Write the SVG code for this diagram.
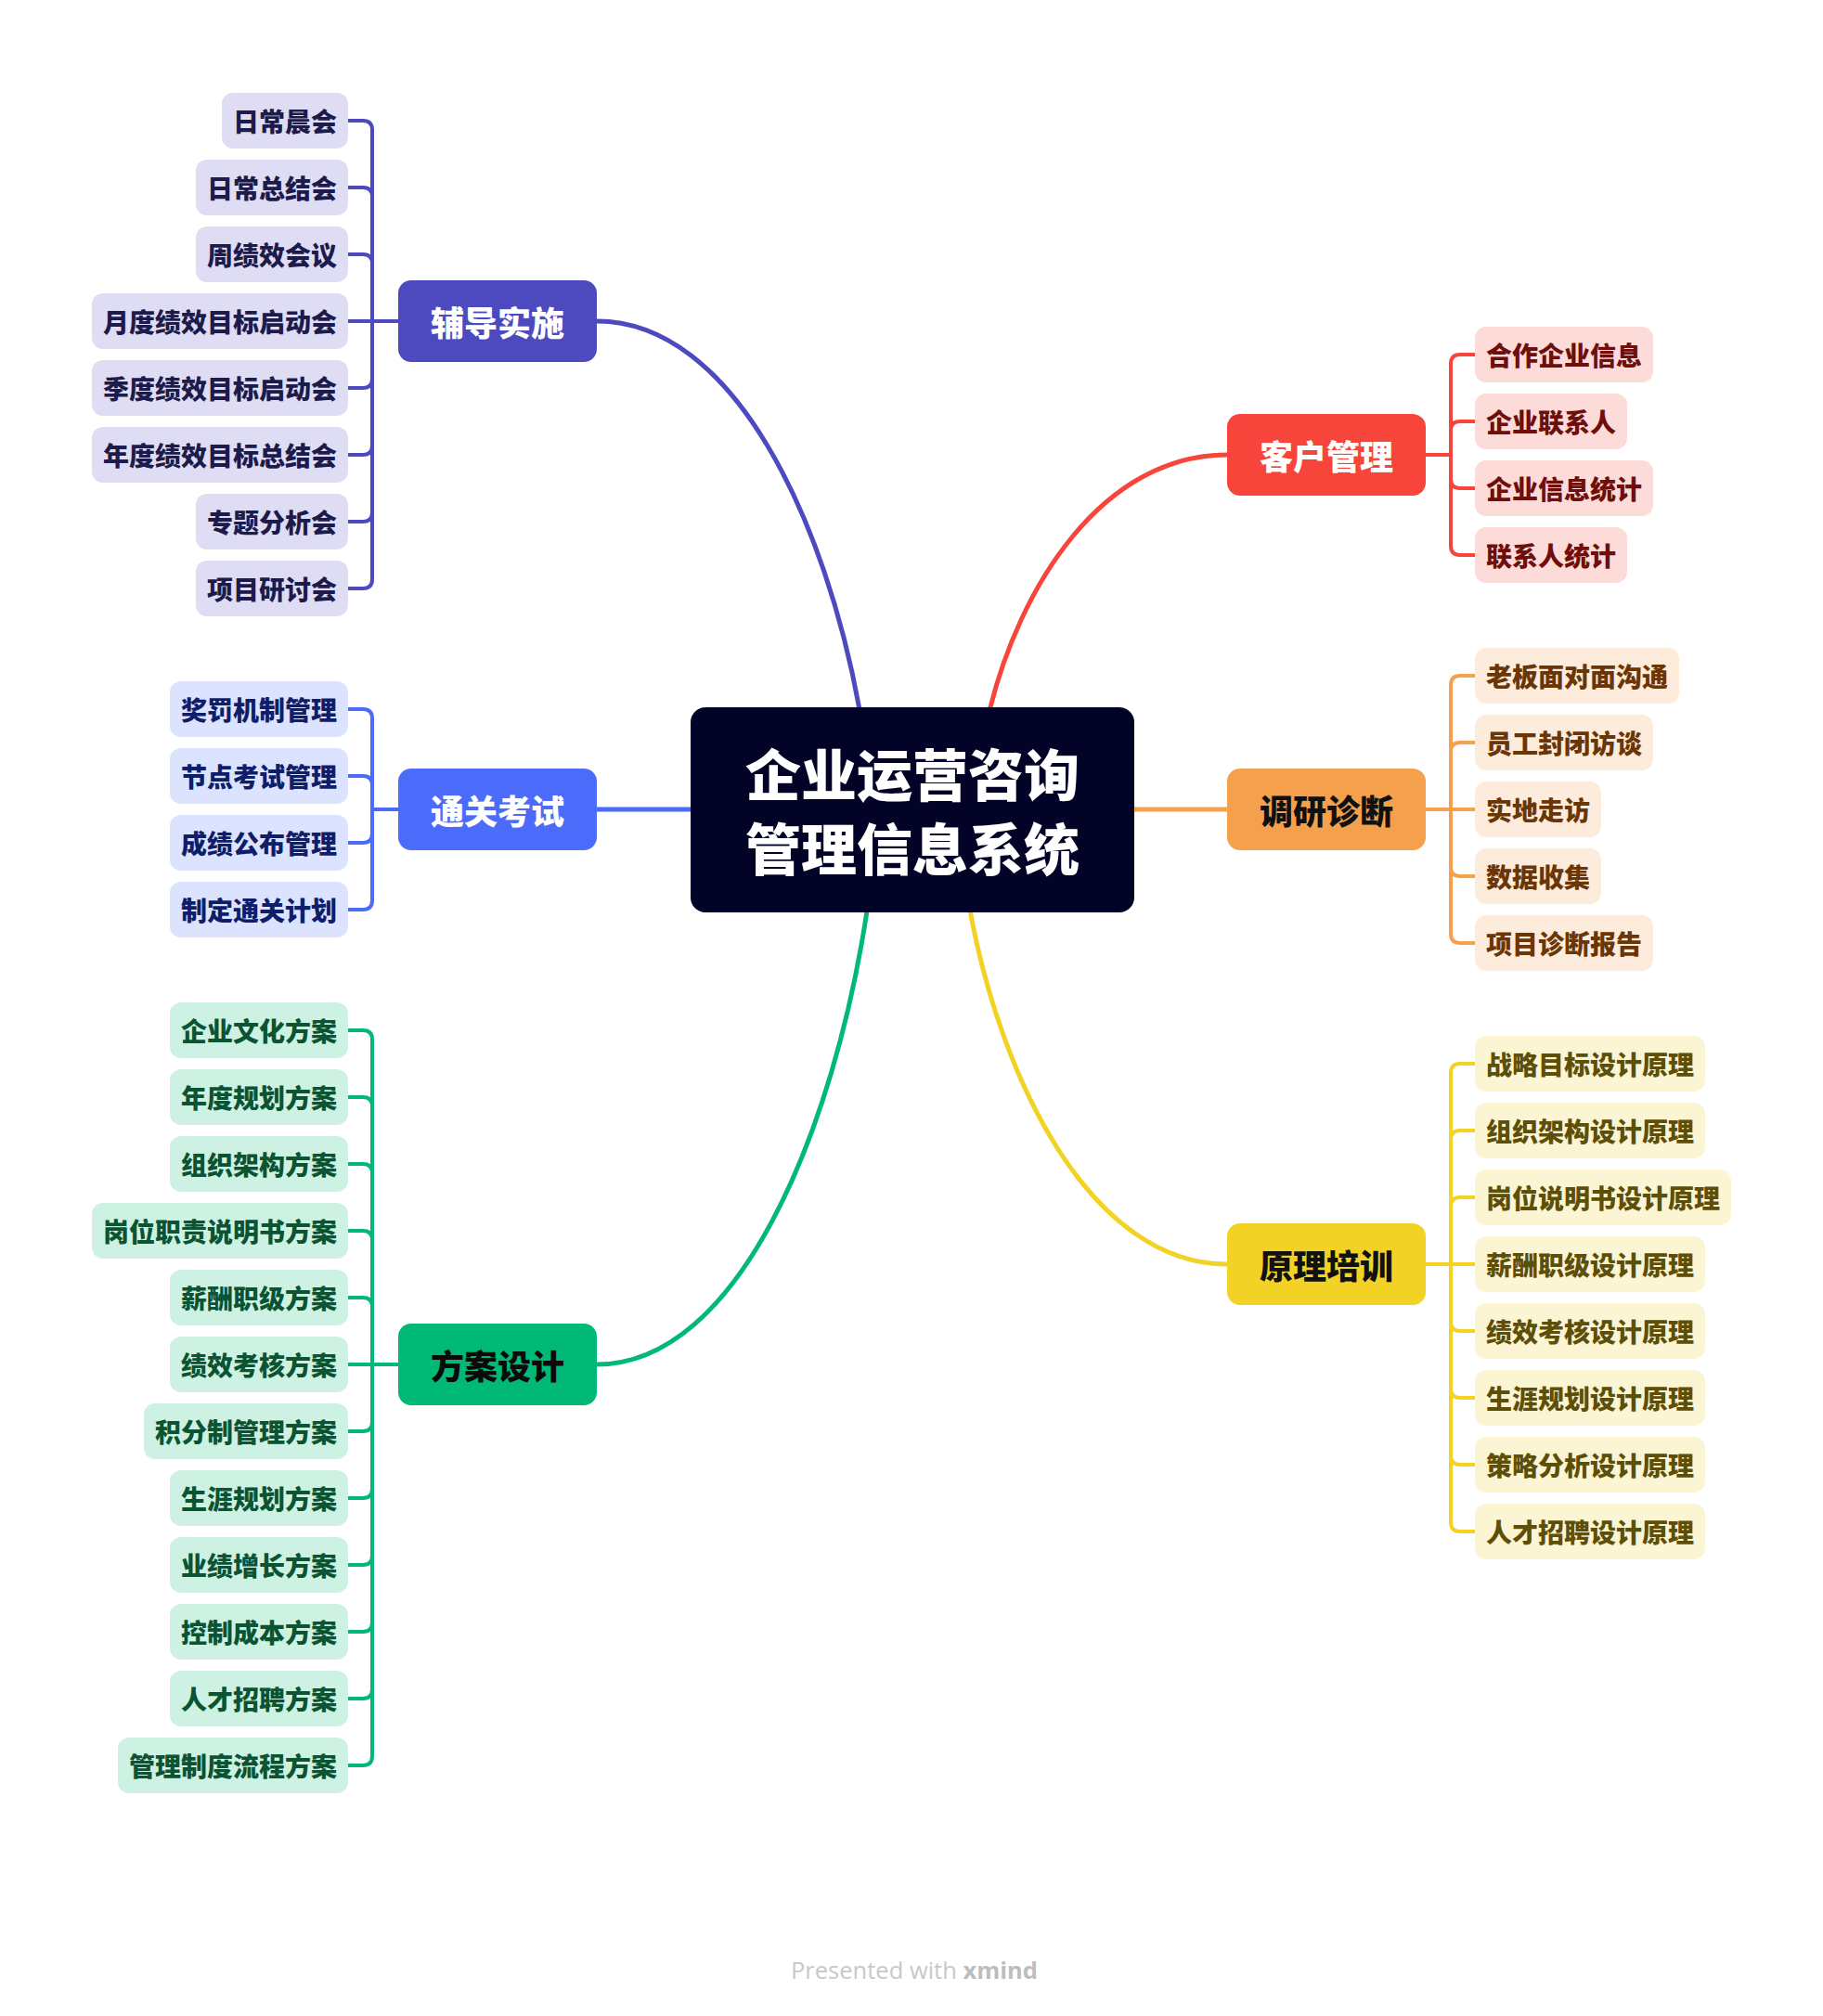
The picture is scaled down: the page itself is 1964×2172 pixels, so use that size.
<svg xmlns="http://www.w3.org/2000/svg" width="1964" height="2172" viewBox="0 0 1964 2172">
<style>
text{font-family:"Noto Sans CJK SC","Noto Sans",sans-serif;font-weight:900;text-anchor:middle;dominant-baseline:central}
.main{font-size:36px}
.sub{font-size:28px}
.ctr{font-size:60px;fill:#fff}
.lk{fill:none;stroke-width:5;stroke-linecap:round}
.sk{fill:none;stroke-width:4;stroke-linecap:round;stroke-linejoin:round}
.ind{stroke:#4D4AC0}.blu{stroke:#4B6BFA}.grn{stroke:#00B976}.red{stroke:#F8453B}.org{stroke:#F5A04C}.yel{stroke:#F2D225}
.fi1{fill:#DFDDF3}.ti1{fill:#1D1B4C}
.fi2{fill:#DCE3FE}.ti2{fill:#0F1E6A}
.fi3{fill:#CDF1E2}.ti3{fill:#0A5434}
.fi4{fill:#FDDBD8}.ti4{fill:#6F0E0A}
.fi5{fill:#FDEBDC}.ti5{fill:#6A3605}
.fi6{fill:#FCF5D4}.ti6{fill:#5D4F07}
.foot{font-family:"Open Sans","Liberation Sans",sans-serif;font-size:25px;fill:#C8C8C8;font-weight:400;dominant-baseline:auto}
</style>
<rect width="1964" height="2172" fill="#fff"/>
<g id="connectors">
<path class="lk ind" d="M643 346 C790 346 890 560 927 770"/>
<path class="lk red" d="M1322 490 C1189 490 1098 630 1065 770"/>
<path class="lk grn" d="M643 1470 C795 1470 899 1220 935 975"/>
<path class="lk yel" d="M1322 1362 C1177 1362 1078 1167 1044 975"/>
<path class="lk blu" d="M643 872 H750"/>
<path class="lk org" d="M1322 872 H1215"/>
<g class="sk ind">
<path d="M429 346 H401 V140 Q401 130 391 130 H375"/>
<path d="M429 346 H401 V212 Q401 202 391 202 H375"/>
<path d="M429 346 H401 V284 Q401 274 391 274 H375"/>
<path d="M429 346 H375"/>
<path d="M429 346 H401 V408 Q401 418 391 418 H375"/>
<path d="M429 346 H401 V480 Q401 490 391 490 H375"/>
<path d="M429 346 H401 V552 Q401 562 391 562 H375"/>
<path d="M429 346 H401 V624 Q401 634 391 634 H375"/>
</g>
<g class="sk blu">
<path d="M429 872 H401 V774 Q401 764 391 764 H375"/>
<path d="M429 872 H401 V846 Q401 836 391 836 H375"/>
<path d="M429 872 H401 V898 Q401 908 391 908 H375"/>
<path d="M429 872 H401 V970 Q401 980 391 980 H375"/>
</g>
<g class="sk grn">
<path d="M429 1470 H401 V1120 Q401 1110 391 1110 H375"/>
<path d="M429 1470 H401 V1192 Q401 1182 391 1182 H375"/>
<path d="M429 1470 H401 V1264 Q401 1254 391 1254 H375"/>
<path d="M429 1470 H401 V1336 Q401 1326 391 1326 H375"/>
<path d="M429 1470 H401 V1408 Q401 1398 391 1398 H375"/>
<path d="M429 1470 H375"/>
<path d="M429 1470 H401 V1532 Q401 1542 391 1542 H375"/>
<path d="M429 1470 H401 V1604 Q401 1614 391 1614 H375"/>
<path d="M429 1470 H401 V1676 Q401 1686 391 1686 H375"/>
<path d="M429 1470 H401 V1748 Q401 1758 391 1758 H375"/>
<path d="M429 1470 H401 V1820 Q401 1830 391 1830 H375"/>
<path d="M429 1470 H401 V1892 Q401 1902 391 1902 H375"/>
</g>
<g class="sk red">
<path d="M1536 490 H1563 V392 Q1563 382 1573 382 H1589"/>
<path d="M1536 490 H1563 V464 Q1563 454 1573 454 H1589"/>
<path d="M1536 490 H1563 V516 Q1563 526 1573 526 H1589"/>
<path d="M1536 490 H1563 V588 Q1563 598 1573 598 H1589"/>
</g>
<g class="sk org">
<path d="M1536 872 H1563 V738 Q1563 728 1573 728 H1589"/>
<path d="M1536 872 H1563 V810 Q1563 800 1573 800 H1589"/>
<path d="M1536 872 H1589"/>
<path d="M1536 872 H1563 V934 Q1563 944 1573 944 H1589"/>
<path d="M1536 872 H1563 V1006 Q1563 1016 1573 1016 H1589"/>
</g>
<g class="sk yel">
<path d="M1536 1362 H1563 V1156 Q1563 1146 1573 1146 H1589"/>
<path d="M1536 1362 H1563 V1228 Q1563 1218 1573 1218 H1589"/>
<path d="M1536 1362 H1563 V1300 Q1563 1290 1573 1290 H1589"/>
<path d="M1536 1362 H1589"/>
<path d="M1536 1362 H1563 V1424 Q1563 1434 1573 1434 H1589"/>
<path d="M1536 1362 H1563 V1496 Q1563 1506 1573 1506 H1589"/>
<path d="M1536 1362 H1563 V1568 Q1563 1578 1573 1578 H1589"/>
<path d="M1536 1362 H1563 V1640 Q1563 1650 1573 1650 H1589"/>
</g>
</g>

<g id="central">
<rect x="744" y="762" width="478" height="221" rx="16" fill="#020326"/>
<text class="ctr" x="983" y="831">企业运营咨询</text>
<text class="ctr" x="983" y="911">管理信息系统</text>
</g>

<g id="fudao">
<rect x="429" y="302" width="214" height="88" rx="14" fill="#4D4AC0"/>
<text class="main" x="536" y="346" fill="#fff">辅导实施</text>
</g>
<g id="tongguan">
<rect x="429" y="828" width="214" height="88" rx="14" fill="#4B6BFA"/>
<text class="main" x="536" y="872" fill="#fff">通关考试</text>
</g>
<g id="fangan">
<rect x="429" y="1426" width="214" height="88" rx="14" fill="#00B976"/>
<text class="main" x="536" y="1470" fill="#0A0A0A">方案设计</text>
</g>
<g id="kehu">
<rect x="1322" y="446" width="214" height="88" rx="14" fill="#F8453B"/>
<text class="main" x="1429" y="490" fill="#fff">客户管理</text>
</g>
<g id="diaoyan">
<rect x="1322" y="828" width="214" height="88" rx="14" fill="#F5A04C"/>
<text class="main" x="1429" y="872" fill="#111">调研诊断</text>
</g>
<g id="yuanli">
<rect x="1322" y="1318" width="214" height="88" rx="14" fill="#F2D225"/>
<text class="main" x="1429" y="1362" fill="#111">原理培训</text>
</g>

<!-- 辅导实施 children -->
<g id="fd1"><rect class="fi1" x="239" y="100" width="136" height="60" rx="12"/><text class="sub ti1" x="307" y="130">日常晨会</text></g>
<g id="fd2"><rect class="fi1" x="211" y="172" width="164" height="60" rx="12"/><text class="sub ti1" x="293" y="202">日常总结会</text></g>
<g id="fd3"><rect class="fi1" x="211" y="244" width="164" height="60" rx="12"/><text class="sub ti1" x="293" y="274">周绩效会议</text></g>
<g id="fd4"><rect class="fi1" x="99" y="316" width="276" height="60" rx="12"/><text class="sub ti1" x="237" y="346">月度绩效目标启动会</text></g>
<g id="fd5"><rect class="fi1" x="99" y="388" width="276" height="60" rx="12"/><text class="sub ti1" x="237" y="418">季度绩效目标启动会</text></g>
<g id="fd6"><rect class="fi1" x="99" y="460" width="276" height="60" rx="12"/><text class="sub ti1" x="237" y="490">年度绩效目标总结会</text></g>
<g id="fd7"><rect class="fi1" x="211" y="532" width="164" height="60" rx="12"/><text class="sub ti1" x="293" y="562">专题分析会</text></g>
<g id="fd8"><rect class="fi1" x="211" y="604" width="164" height="60" rx="12"/><text class="sub ti1" x="293" y="634">项目研讨会</text></g>

<!-- 通关考试 children -->
<g id="tg1"><rect class="fi2" x="183" y="734" width="192" height="60" rx="12"/><text class="sub ti2" x="279" y="764">奖罚机制管理</text></g>
<g id="tg2"><rect class="fi2" x="183" y="806" width="192" height="60" rx="12"/><text class="sub ti2" x="279" y="836">节点考试管理</text></g>
<g id="tg3"><rect class="fi2" x="183" y="878" width="192" height="60" rx="12"/><text class="sub ti2" x="279" y="908">成绩公布管理</text></g>
<g id="tg4"><rect class="fi2" x="183" y="950" width="192" height="60" rx="12"/><text class="sub ti2" x="279" y="980">制定通关计划</text></g>

<!-- 方案设计 children -->
<g id="fa1"><rect class="fi3" x="183" y="1080" width="192" height="60" rx="12"/><text class="sub ti3" x="279" y="1110">企业文化方案</text></g>
<g id="fa2"><rect class="fi3" x="183" y="1152" width="192" height="60" rx="12"/><text class="sub ti3" x="279" y="1182">年度规划方案</text></g>
<g id="fa3"><rect class="fi3" x="183" y="1224" width="192" height="60" rx="12"/><text class="sub ti3" x="279" y="1254">组织架构方案</text></g>
<g id="fa4"><rect class="fi3" x="99" y="1296" width="276" height="60" rx="12"/><text class="sub ti3" x="237" y="1326">岗位职责说明书方案</text></g>
<g id="fa5"><rect class="fi3" x="183" y="1368" width="192" height="60" rx="12"/><text class="sub ti3" x="279" y="1398">薪酬职级方案</text></g>
<g id="fa6"><rect class="fi3" x="183" y="1440" width="192" height="60" rx="12"/><text class="sub ti3" x="279" y="1470">绩效考核方案</text></g>
<g id="fa7"><rect class="fi3" x="155" y="1512" width="220" height="60" rx="12"/><text class="sub ti3" x="265" y="1542">积分制管理方案</text></g>
<g id="fa8"><rect class="fi3" x="183" y="1584" width="192" height="60" rx="12"/><text class="sub ti3" x="279" y="1614">生涯规划方案</text></g>
<g id="fa9"><rect class="fi3" x="183" y="1656" width="192" height="60" rx="12"/><text class="sub ti3" x="279" y="1686">业绩增长方案</text></g>
<g id="fa10"><rect class="fi3" x="183" y="1728" width="192" height="60" rx="12"/><text class="sub ti3" x="279" y="1758">控制成本方案</text></g>
<g id="fa11"><rect class="fi3" x="183" y="1800" width="192" height="60" rx="12"/><text class="sub ti3" x="279" y="1830">人才招聘方案</text></g>
<g id="fa12"><rect class="fi3" x="127" y="1872" width="248" height="60" rx="12"/><text class="sub ti3" x="251" y="1902">管理制度流程方案</text></g>

<!-- 客户管理 children -->
<g id="kh1"><rect class="fi4" x="1589" y="352" width="192" height="60" rx="12"/><text class="sub ti4" x="1685" y="382">合作企业信息</text></g>
<g id="kh2"><rect class="fi4" x="1589" y="424" width="164" height="60" rx="12"/><text class="sub ti4" x="1671" y="454">企业联系人</text></g>
<g id="kh3"><rect class="fi4" x="1589" y="496" width="192" height="60" rx="12"/><text class="sub ti4" x="1685" y="526">企业信息统计</text></g>
<g id="kh4"><rect class="fi4" x="1589" y="568" width="164" height="60" rx="12"/><text class="sub ti4" x="1671" y="598">联系人统计</text></g>

<!-- 调研诊断 children -->
<g id="dy1"><rect class="fi5" x="1589" y="698" width="220" height="60" rx="12"/><text class="sub ti5" x="1699" y="728">老板面对面沟通</text></g>
<g id="dy2"><rect class="fi5" x="1589" y="770" width="192" height="60" rx="12"/><text class="sub ti5" x="1685" y="800">员工封闭访谈</text></g>
<g id="dy3"><rect class="fi5" x="1589" y="842" width="136" height="60" rx="12"/><text class="sub ti5" x="1657" y="872">实地走访</text></g>
<g id="dy4"><rect class="fi5" x="1589" y="914" width="136" height="60" rx="12"/><text class="sub ti5" x="1657" y="944">数据收集</text></g>
<g id="dy5"><rect class="fi5" x="1589" y="986" width="192" height="60" rx="12"/><text class="sub ti5" x="1685" y="1016">项目诊断报告</text></g>

<!-- 原理培训 children -->
<g id="yl1"><rect class="fi6" x="1589" y="1116" width="248" height="60" rx="12"/><text class="sub ti6" x="1713" y="1146">战略目标设计原理</text></g>
<g id="yl2"><rect class="fi6" x="1589" y="1188" width="248" height="60" rx="12"/><text class="sub ti6" x="1713" y="1218">组织架构设计原理</text></g>
<g id="yl3"><rect class="fi6" x="1589" y="1260" width="276" height="60" rx="12"/><text class="sub ti6" x="1727" y="1290">岗位说明书设计原理</text></g>
<g id="yl4"><rect class="fi6" x="1589" y="1332" width="248" height="60" rx="12"/><text class="sub ti6" x="1713" y="1362">薪酬职级设计原理</text></g>
<g id="yl5"><rect class="fi6" x="1589" y="1404" width="248" height="60" rx="12"/><text class="sub ti6" x="1713" y="1434">绩效考核设计原理</text></g>
<g id="yl6"><rect class="fi6" x="1589" y="1476" width="248" height="60" rx="12"/><text class="sub ti6" x="1713" y="1506">生涯规划设计原理</text></g>
<g id="yl7"><rect class="fi6" x="1589" y="1548" width="248" height="60" rx="12"/><text class="sub ti6" x="1713" y="1578">策略分析设计原理</text></g>
<g id="yl8"><rect class="fi6" x="1589" y="1620" width="248" height="60" rx="12"/><text class="sub ti6" x="1713" y="1650">人才招聘设计原理</text></g>

<text class="foot" x="985" y="2132" textLength="266" lengthAdjust="spacingAndGlyphs">Presented with <tspan font-weight="700" fill="#BDBDBD">xmind</tspan></text>
</svg>
